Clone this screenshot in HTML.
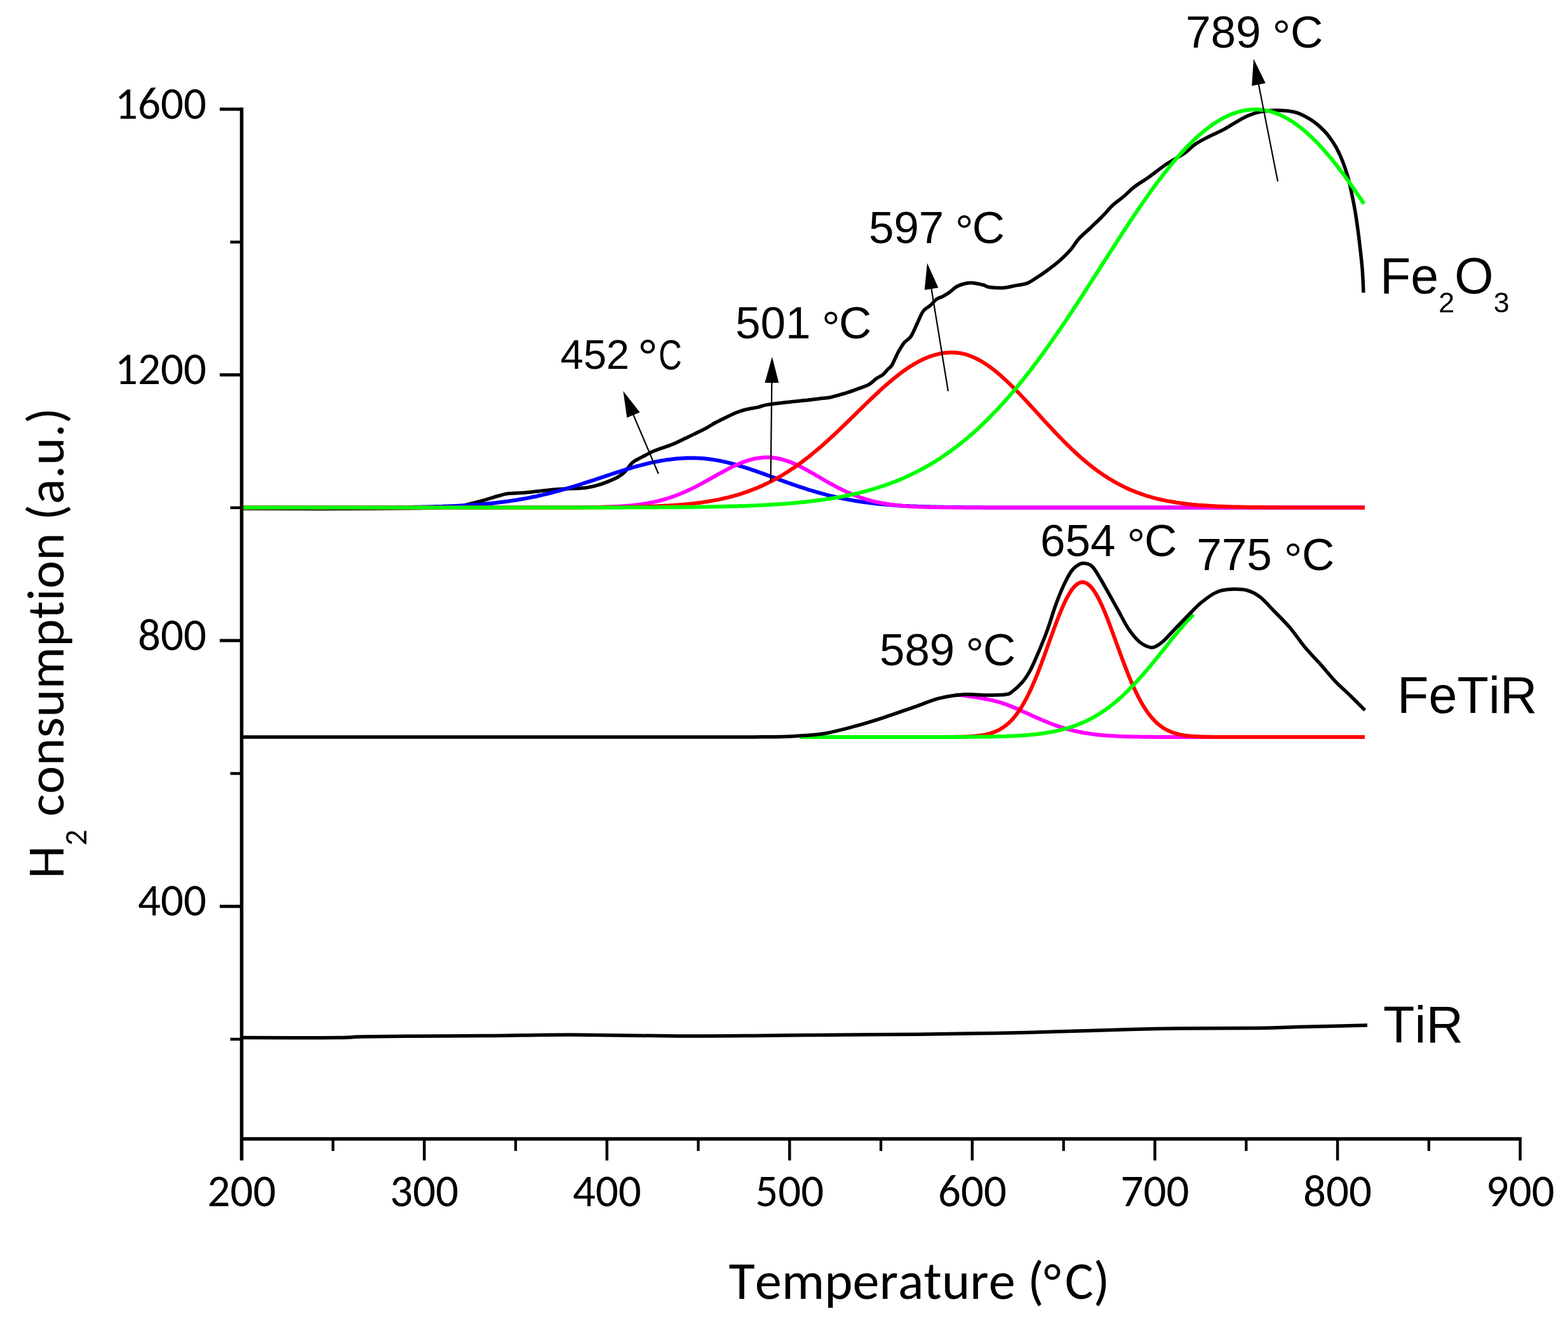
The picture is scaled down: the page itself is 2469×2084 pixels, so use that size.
<!DOCTYPE html>
<html><head><meta charset="utf-8"><title>H2-TPR profiles</title>
<style>html,body{margin:0;padding:0;background:#fff;width:2469px;height:2084px;overflow:hidden}svg{display:block}text{font-kerning:none}</style>
</head><body>
<svg xmlns="http://www.w3.org/2000/svg" width="2469" height="2084" viewBox="0 0 2469 2084">
<rect width="2469" height="2084" fill="#fff"/>
<path d="M381.0,801.0 C400.8,801.1 463.5,801.5 500.0,801.5 C536.5,801.5 573.3,801.2 600.0,801.0 C626.7,800.8 643.3,800.8 660.0,800.5 C676.7,800.2 689.2,800.1 700.0,799.5 C710.8,798.9 717.5,798.2 725.0,797.0 C732.5,795.8 738.5,794.1 745.0,792.5 C751.5,790.9 757.3,789.3 764.0,787.4 C770.7,785.5 779.0,782.6 785.0,781.0 C791.0,779.4 793.0,778.3 800.0,777.5 C807.0,776.7 817.2,776.8 827.0,776.0 C836.8,775.2 850.2,773.5 859.0,772.6 C867.8,771.7 869.5,771.2 880.0,770.5 C890.5,769.8 911.1,769.6 922.0,768.4 C932.9,767.1 938.9,764.9 945.3,763.0 C951.7,761.1 955.9,759.3 960.6,757.3 C965.3,755.3 969.6,753.5 973.4,751.2 C977.2,748.9 979.8,747.4 983.6,743.6 C987.4,739.8 991.6,732.3 996.3,728.3 C1001.0,724.3 1006.5,722.4 1011.6,719.6 C1016.7,716.8 1022.6,713.4 1027.0,711.4 C1031.4,709.4 1032.5,709.4 1038.0,707.4 C1043.5,705.4 1053.0,702.4 1060.0,699.5 C1067.0,696.6 1074.4,692.6 1080.0,690.0 C1085.6,687.4 1088.2,686.2 1093.5,683.6 C1098.8,681.0 1106.0,677.6 1111.6,674.6 C1117.2,671.6 1121.7,668.4 1127.0,665.5 C1132.3,662.6 1137.6,660.2 1143.2,657.5 C1148.8,654.8 1155.2,651.6 1160.5,649.5 C1165.8,647.4 1169.1,646.4 1174.7,645.0 C1180.3,643.6 1188.7,642.6 1194.0,641.4 C1199.3,640.2 1199.0,639.2 1206.3,637.9 C1213.6,636.6 1227.4,634.9 1237.9,633.7 C1248.4,632.5 1260.8,631.5 1269.5,630.5 C1278.2,629.5 1284.0,628.6 1290.0,627.9 C1296.0,627.2 1300.5,627.3 1305.8,626.3 C1311.1,625.3 1316.3,623.6 1321.6,622.1 C1326.9,620.6 1332.1,619.1 1337.4,617.4 C1342.7,615.6 1348.0,613.6 1353.2,611.6 C1358.5,609.6 1364.4,607.9 1368.9,605.3 C1373.4,602.7 1376.5,598.7 1380.0,596.2 C1383.5,593.7 1387.0,592.7 1390.0,590.3 C1393.0,587.9 1395.6,584.1 1398.0,581.6 C1400.4,579.1 1401.8,579.4 1404.5,575.0 C1407.2,570.6 1411.0,560.8 1414.2,555.0 C1417.4,549.2 1420.2,544.2 1423.6,540.0 C1426.9,535.8 1430.9,535.0 1434.3,530.0 C1437.7,525.0 1440.8,516.7 1444.0,510.0 C1447.2,503.3 1450.3,494.8 1453.8,490.0 C1457.3,485.2 1461.5,484.2 1465.0,481.1 C1468.5,478.0 1471.7,473.5 1475.0,471.1 C1478.3,468.7 1481.7,468.4 1485.0,466.7 C1488.3,464.9 1491.2,463.2 1495.0,460.6 C1498.8,458.0 1502.3,453.3 1507.8,450.8 C1513.3,448.3 1521.2,445.8 1527.9,445.5 C1534.6,445.2 1543.1,447.7 1548.0,448.8 C1552.9,449.9 1552.1,451.4 1557.2,452.2 C1562.3,453.0 1571.6,453.9 1578.8,453.5 C1586.0,453.1 1593.8,450.8 1600.3,449.6 C1606.8,448.4 1611.8,448.4 1617.5,446.1 C1623.2,443.8 1629.0,439.5 1634.7,435.8 C1640.5,432.1 1646.2,428.0 1652.0,423.7 C1657.8,419.4 1663.5,415.2 1669.2,410.0 C1674.9,404.8 1681.5,398.3 1686.4,392.7 C1691.3,387.1 1693.2,382.2 1698.5,376.4 C1703.8,370.6 1712.1,363.6 1718.3,357.7 C1724.5,351.8 1729.7,347.0 1735.4,341.2 C1741.1,335.4 1746.7,328.4 1752.4,323.1 C1758.1,317.8 1763.7,314.3 1769.4,309.5 C1775.1,304.7 1779.9,299.2 1786.4,294.2 C1792.9,289.2 1799.9,285.4 1808.3,279.5 C1816.7,273.6 1827.1,264.9 1836.7,258.5 C1846.3,252.1 1858.0,246.2 1865.7,240.9 C1873.4,235.6 1876.1,231.1 1882.7,226.7 C1889.3,222.2 1897.9,218.1 1905.4,214.2 C1913.0,210.3 1920.5,207.5 1928.0,203.4 C1935.5,199.3 1944.3,193.4 1950.7,189.8 C1957.1,186.2 1960.8,183.9 1966.6,181.6 C1972.4,179.3 1979.3,177.1 1985.7,175.8 C1992.1,174.5 1998.4,174.1 2004.8,173.9 C2011.2,173.7 2017.6,173.8 2024.0,174.4 C2030.4,175.1 2036.7,175.7 2043.1,177.8 C2049.5,180.0 2056.9,184.2 2062.2,187.3 C2067.5,190.4 2069.9,192.1 2074.7,196.4 C2079.5,200.7 2086.2,206.9 2091.1,212.9 C2096.0,218.9 2100.4,225.8 2104.2,232.6 C2108.0,239.4 2111.1,246.3 2114.1,254.0 C2117.1,261.7 2120.0,270.4 2122.3,278.6 C2124.6,286.8 2126.3,295.1 2128.1,303.3 C2129.9,311.5 2131.3,318.4 2133.0,328.0 C2134.7,337.6 2136.5,349.9 2138.0,360.8 C2139.5,371.8 2140.8,382.7 2142.0,393.7 C2143.2,404.7 2144.5,415.4 2145.3,426.6 C2146.1,437.8 2146.7,455.3 2147.0,461.0" fill="none" stroke="#000" stroke-width="5.5" stroke-linejoin="round" stroke-linecap="butt"/>
<path d="M381.0,799.5 L385.0,799.5 L389.0,799.5 L393.0,799.5 L397.0,799.5 L401.0,799.5 L405.0,799.5 L409.0,799.5 L413.0,799.5 L417.0,799.5 L421.0,799.5 L425.0,799.5 L429.0,799.5 L433.0,799.5 L437.0,799.5 L441.0,799.5 L445.0,799.5 L449.0,799.5 L453.0,799.5 L457.0,799.5 L461.0,799.5 L465.0,799.5 L469.0,799.5 L473.0,799.5 L477.0,799.5 L481.0,799.5 L485.0,799.5 L489.0,799.5 L493.0,799.5 L497.0,799.5 L501.0,799.5 L505.0,799.5 L509.0,799.5 L513.0,799.5 L517.0,799.5 L521.0,799.5 L525.0,799.5 L529.0,799.5 L533.0,799.5 L537.0,799.5 L541.0,799.5 L545.0,799.4 L549.0,799.4 L553.0,799.4 L557.0,799.4 L561.0,799.4 L565.0,799.4 L569.0,799.4 L573.0,799.4 L577.0,799.4 L581.0,799.4 L585.0,799.4 L589.0,799.3 L593.0,799.3 L597.0,799.3 L601.0,799.3 L605.0,799.3 L609.0,799.2 L613.0,799.2 L617.0,799.2 L621.0,799.2 L625.0,799.1 L629.0,799.1 L633.0,799.0 L637.0,799.0 L641.0,799.0 L645.0,798.9 L649.0,798.9 L653.0,798.8 L657.0,798.7 L661.0,798.7 L665.0,798.6 L669.0,798.5 L673.0,798.4 L677.0,798.3 L681.0,798.2 L685.0,798.1 L689.0,798.0 L693.0,797.9 L697.0,797.8 L701.0,797.6 L705.0,797.5 L709.0,797.3 L713.0,797.2 L717.0,797.0 L721.0,796.8 L725.0,796.6 L729.0,796.4 L733.0,796.1 L737.0,795.9 L741.0,795.6 L745.0,795.3 L749.0,795.1 L753.0,794.7 L757.0,794.4 L761.0,794.1 L765.0,793.7 L769.0,793.3 L773.0,792.9 L777.0,792.5 L781.0,792.1 L785.0,791.6 L789.0,791.1 L793.0,790.6 L797.0,790.1 L801.0,789.5 L805.0,788.9 L809.0,788.3 L813.0,787.7 L817.0,787.0 L821.0,786.3 L825.0,785.6 L829.0,784.9 L833.0,784.1 L837.0,783.3 L841.0,782.5 L845.0,781.7 L849.0,780.8 L853.0,779.9 L857.0,778.9 L861.0,778.0 L865.0,777.0 L869.0,776.0 L873.0,774.9 L877.0,773.9 L881.0,772.8 L885.0,771.7 L889.0,770.5 L893.0,769.4 L897.0,768.2 L901.0,767.0 L905.0,765.8 L909.0,764.5 L913.0,763.3 L917.0,762.0 L921.0,760.7 L925.0,759.4 L929.0,758.1 L933.0,756.8 L937.0,755.5 L941.0,754.1 L945.0,752.8 L949.0,751.5 L953.0,750.1 L957.0,748.8 L961.0,747.5 L965.0,746.2 L969.0,744.9 L973.0,743.6 L977.0,742.3 L981.0,741.0 L985.0,739.8 L989.0,738.6 L993.0,737.4 L997.0,736.2 L1001.0,735.0 L1005.0,733.9 L1009.0,732.9 L1013.0,731.8 L1017.0,730.8 L1021.0,729.9 L1025.0,728.9 L1029.0,728.1 L1033.0,727.2 L1037.0,726.5 L1041.0,725.7 L1045.0,725.1 L1049.0,724.4 L1053.0,723.9 L1057.0,723.4 L1061.0,722.9 L1065.0,722.5 L1069.0,722.2 L1073.0,721.9 L1077.0,721.7 L1081.0,721.5 L1085.0,721.4 L1089.0,721.4 L1093.0,721.4 L1097.0,721.6 L1101.0,721.7 L1105.0,722.0 L1109.0,722.3 L1113.0,722.7 L1117.0,723.2 L1121.0,723.8 L1125.0,724.4 L1129.0,725.1 L1133.0,725.8 L1137.0,726.6 L1141.0,727.5 L1145.0,728.4 L1149.0,729.4 L1153.0,730.4 L1157.0,731.5 L1161.0,732.7 L1165.0,733.8 L1169.0,735.1 L1173.0,736.3 L1177.0,737.6 L1181.0,738.9 L1185.0,740.3 L1189.0,741.7 L1193.0,743.1 L1197.0,744.5 L1201.0,745.9 L1205.0,747.4 L1209.0,748.8 L1213.0,750.3 L1217.0,751.8 L1221.0,753.2 L1225.0,754.7 L1229.0,756.2 L1233.0,757.6 L1237.0,759.1 L1241.0,760.5 L1245.0,761.9 L1249.0,763.3 L1253.0,764.7 L1257.0,766.1 L1261.0,767.4 L1265.0,768.7 L1269.0,770.0 L1273.0,771.3 L1277.0,772.5 L1281.0,773.7 L1285.0,774.9 L1289.0,776.0 L1293.0,777.1 L1297.0,778.2 L1301.0,779.3 L1305.0,780.3 L1309.0,781.3 L1313.0,782.2 L1317.0,783.1 L1321.0,784.0 L1325.0,784.8 L1329.0,785.7 L1333.0,786.4 L1337.0,787.2 L1341.0,787.9 L1345.0,788.6 L1349.0,789.3 L1353.0,789.9 L1357.0,790.5 L1361.0,791.0 L1365.0,791.6 L1369.0,792.1 L1373.0,792.6 L1377.0,793.0 L1381.0,793.5 L1385.0,793.9 L1389.0,794.3 L1393.0,794.6 L1397.0,795.0 L1401.0,795.3 L1405.0,795.6 L1409.0,795.9 L1413.0,796.2 L1417.0,796.4 L1421.0,796.7 L1425.0,796.9 L1429.0,797.1 L1433.0,797.3 L1437.0,797.4 L1441.0,797.6 L1445.0,797.8 L1449.0,797.9 L1453.0,798.0 L1457.0,798.2 L1461.0,798.3 L1465.0,798.4 L1469.0,798.5 L1473.0,798.6 L1477.0,798.7 L1481.0,798.7 L1485.0,798.8 L1489.0,798.9 L1493.0,798.9 L1497.0,799.0 L1501.0,799.0 L1505.0,799.1 L1509.0,799.1 L1513.0,799.1 L1517.0,799.2 L1521.0,799.2 L1525.0,799.2 L1529.0,799.3 L1533.0,799.3 L1537.0,799.3 L1541.0,799.3 L1545.0,799.3 L1549.0,799.4 L1553.0,799.4 L1557.0,799.4 L1561.0,799.4 L1565.0,799.4 L1569.0,799.4 L1573.0,799.4 L1577.0,799.4 L1581.0,799.4 L1585.0,799.5 L1589.0,799.5 L1593.0,799.5 L1597.0,799.5 L1601.0,799.5 L1605.0,799.5 L1609.0,799.5 L1613.0,799.5 L1617.0,799.5 L1621.0,799.5 L1625.0,799.5 L1629.0,799.5 L1633.0,799.5 L1637.0,799.5 L1641.0,799.5 L1645.0,799.5 L1649.0,799.5 L1653.0,799.5 L1657.0,799.5 L1661.0,799.5 L1665.0,799.5 L1669.0,799.5 L1673.0,799.5 L1677.0,799.5 L1681.0,799.5 L1685.0,799.5 L1689.0,799.5 L1693.0,799.5 L1697.0,799.5 L1701.0,799.5 L1705.0,799.5 L1709.0,799.5 L1713.0,799.5 L1717.0,799.5 L1721.0,799.5 L1725.0,799.5 L1729.0,799.5 L1733.0,799.5 L1737.0,799.5 L1741.0,799.5 L1745.0,799.5 L1749.0,799.5 L1753.0,799.5 L1757.0,799.5 L1761.0,799.5 L1765.0,799.5 L1769.0,799.5 L1773.0,799.5 L1777.0,799.5 L1781.0,799.5 L1785.0,799.5 L1789.0,799.5 L1793.0,799.5 L1797.0,799.5 L1801.0,799.5 L1805.0,799.5 L1809.0,799.5 L1813.0,799.5 L1817.0,799.5 L1821.0,799.5 L1825.0,799.5 L1829.0,799.5 L1833.0,799.5 L1837.0,799.5 L1841.0,799.5 L1845.0,799.5 L1849.0,799.5 L1853.0,799.5 L1857.0,799.5 L1861.0,799.5 L1865.0,799.5 L1869.0,799.5 L1873.0,799.5 L1877.0,799.5 L1881.0,799.5 L1885.0,799.5 L1889.0,799.5 L1893.0,799.5 L1897.0,799.5 L1901.0,799.5 L1905.0,799.5 L1909.0,799.5 L1913.0,799.5 L1917.0,799.5 L1921.0,799.5 L1925.0,799.5 L1929.0,799.5 L1933.0,799.5 L1937.0,799.5 L1941.0,799.5 L1945.0,799.5 L1949.0,799.5 L1953.0,799.5 L1957.0,799.5 L1961.0,799.5 L1965.0,799.5 L1969.0,799.5 L1973.0,799.5 L1977.0,799.5 L1981.0,799.5 L1985.0,799.5 L1989.0,799.5 L1993.0,799.5 L1997.0,799.5 L2001.0,799.5 L2005.0,799.5 L2009.0,799.5 L2013.0,799.5 L2017.0,799.5 L2021.0,799.5 L2025.0,799.5 L2029.0,799.5 L2033.0,799.5 L2037.0,799.5 L2041.0,799.5 L2045.0,799.5 L2049.0,799.5 L2053.0,799.5 L2057.0,799.5 L2061.0,799.5 L2065.0,799.5 L2069.0,799.5 L2073.0,799.5 L2077.0,799.5 L2081.0,799.5 L2085.0,799.5 L2089.0,799.5 L2093.0,799.5 L2097.0,799.5 L2101.0,799.5 L2105.0,799.5 L2109.0,799.5 L2113.0,799.5 L2117.0,799.5 L2121.0,799.5 L2125.0,799.5 L2129.0,799.5 L2133.0,799.5 L2137.0,799.5 L2141.0,799.5 L2145.0,799.5 L2149.0,799.5" fill="none" stroke="#0000ff" stroke-width="6" stroke-linejoin="round"/>
<path d="M381.0,799.5 L385.0,799.5 L389.0,799.5 L393.0,799.5 L397.0,799.5 L401.0,799.5 L405.0,799.5 L409.0,799.5 L413.0,799.5 L417.0,799.5 L421.0,799.5 L425.0,799.5 L429.0,799.5 L433.0,799.5 L437.0,799.5 L441.0,799.5 L445.0,799.5 L449.0,799.5 L453.0,799.5 L457.0,799.5 L461.0,799.5 L465.0,799.5 L469.0,799.5 L473.0,799.5 L477.0,799.5 L481.0,799.5 L485.0,799.5 L489.0,799.5 L493.0,799.5 L497.0,799.5 L501.0,799.5 L505.0,799.5 L509.0,799.5 L513.0,799.5 L517.0,799.5 L521.0,799.5 L525.0,799.5 L529.0,799.5 L533.0,799.5 L537.0,799.5 L541.0,799.5 L545.0,799.5 L549.0,799.5 L553.0,799.5 L557.0,799.5 L561.0,799.5 L565.0,799.5 L569.0,799.5 L573.0,799.5 L577.0,799.5 L581.0,799.5 L585.0,799.5 L589.0,799.5 L593.0,799.5 L597.0,799.5 L601.0,799.5 L605.0,799.5 L609.0,799.5 L613.0,799.5 L617.0,799.5 L621.0,799.5 L625.0,799.5 L629.0,799.5 L633.0,799.5 L637.0,799.5 L641.0,799.5 L645.0,799.5 L649.0,799.5 L653.0,799.5 L657.0,799.5 L661.0,799.5 L665.0,799.5 L669.0,799.5 L673.0,799.5 L677.0,799.5 L681.0,799.5 L685.0,799.5 L689.0,799.5 L693.0,799.5 L697.0,799.5 L701.0,799.5 L705.0,799.5 L709.0,799.5 L713.0,799.5 L717.0,799.5 L721.0,799.5 L725.0,799.5 L729.0,799.5 L733.0,799.5 L737.0,799.5 L741.0,799.5 L745.0,799.5 L749.0,799.5 L753.0,799.5 L757.0,799.5 L761.0,799.5 L765.0,799.5 L769.0,799.5 L773.0,799.5 L777.0,799.5 L781.0,799.5 L785.0,799.5 L789.0,799.5 L793.0,799.5 L797.0,799.5 L801.0,799.5 L805.0,799.5 L809.0,799.5 L813.0,799.5 L817.0,799.5 L821.0,799.5 L825.0,799.5 L829.0,799.5 L833.0,799.5 L837.0,799.5 L841.0,799.5 L845.0,799.5 L849.0,799.5 L853.0,799.5 L857.0,799.5 L861.0,799.5 L865.0,799.5 L869.0,799.5 L873.0,799.5 L877.0,799.5 L881.0,799.5 L885.0,799.4 L889.0,799.4 L893.0,799.4 L897.0,799.4 L901.0,799.4 L905.0,799.4 L909.0,799.3 L913.0,799.3 L917.0,799.3 L921.0,799.2 L925.0,799.2 L929.0,799.1 L933.0,799.1 L937.0,799.0 L941.0,798.9 L945.0,798.8 L949.0,798.7 L953.0,798.6 L957.0,798.5 L961.0,798.3 L965.0,798.2 L969.0,798.0 L973.0,797.8 L977.0,797.5 L981.0,797.3 L985.0,797.0 L989.0,796.6 L993.0,796.3 L997.0,795.9 L1001.0,795.4 L1005.0,794.9 L1009.0,794.4 L1013.0,793.8 L1017.0,793.2 L1021.0,792.5 L1025.0,791.7 L1029.0,790.9 L1033.0,790.0 L1037.0,789.1 L1041.0,788.0 L1045.0,786.9 L1049.0,785.8 L1053.0,784.5 L1057.0,783.2 L1061.0,781.8 L1065.0,780.3 L1069.0,778.8 L1073.0,777.1 L1077.0,775.4 L1081.0,773.6 L1085.0,771.8 L1089.0,769.9 L1093.0,767.9 L1097.0,765.8 L1101.0,763.7 L1105.0,761.6 L1109.0,759.4 L1113.0,757.2 L1117.0,755.0 L1121.0,752.7 L1125.0,750.5 L1129.0,748.2 L1133.0,746.0 L1137.0,743.8 L1141.0,741.6 L1145.0,739.5 L1149.0,737.4 L1153.0,735.4 L1157.0,733.5 L1161.0,731.7 L1165.0,730.0 L1169.0,728.4 L1173.0,726.9 L1177.0,725.6 L1181.0,724.4 L1185.0,723.3 L1189.0,722.4 L1193.0,721.7 L1197.0,721.2 L1201.0,720.8 L1205.0,720.5 L1209.0,720.5 L1213.0,720.6 L1217.0,721.0 L1221.0,721.5 L1225.0,722.2 L1229.0,723.0 L1233.0,724.1 L1237.0,725.3 L1241.0,726.6 L1245.0,728.1 L1249.0,729.8 L1253.0,731.5 L1257.0,733.4 L1261.0,735.4 L1265.0,737.5 L1269.0,739.6 L1273.0,741.8 L1277.0,744.1 L1281.0,746.3 L1285.0,748.7 L1289.0,751.0 L1293.0,753.3 L1297.0,755.7 L1301.0,758.0 L1305.0,760.3 L1309.0,762.5 L1313.0,764.7 L1317.0,766.8 L1321.0,768.9 L1325.0,771.0 L1329.0,772.9 L1333.0,774.8 L1337.0,776.6 L1341.0,778.3 L1345.0,779.9 L1349.0,781.5 L1353.0,783.0 L1357.0,784.3 L1361.0,785.6 L1365.0,786.9 L1369.0,788.0 L1373.0,789.1 L1377.0,790.1 L1381.0,791.0 L1385.0,791.8 L1389.0,792.6 L1393.0,793.3 L1397.0,794.0 L1401.0,794.5 L1405.0,795.1 L1409.0,795.6 L1413.0,796.0 L1417.0,796.4 L1421.0,796.8 L1425.0,797.1 L1429.0,797.4 L1433.0,797.7 L1437.0,797.9 L1441.0,798.1 L1445.0,798.3 L1449.0,798.4 L1453.0,798.6 L1457.0,798.7 L1461.0,798.8 L1465.0,798.9 L1469.0,799.0 L1473.0,799.1 L1477.0,799.1 L1481.0,799.2 L1485.0,799.2 L1489.0,799.3 L1493.0,799.3 L1497.0,799.3 L1501.0,799.4 L1505.0,799.4 L1509.0,799.4 L1513.0,799.4 L1517.0,799.4 L1521.0,799.4 L1525.0,799.5 L1529.0,799.5 L1533.0,799.5 L1537.0,799.5 L1541.0,799.5 L1545.0,799.5 L1549.0,799.5 L1553.0,799.5 L1557.0,799.5 L1561.0,799.5 L1565.0,799.5 L1569.0,799.5 L1573.0,799.5 L1577.0,799.5 L1581.0,799.5 L1585.0,799.5 L1589.0,799.5 L1593.0,799.5 L1597.0,799.5 L1601.0,799.5 L1605.0,799.5 L1609.0,799.5 L1613.0,799.5 L1617.0,799.5 L1621.0,799.5 L1625.0,799.5 L1629.0,799.5 L1633.0,799.5 L1637.0,799.5 L1641.0,799.5 L1645.0,799.5 L1649.0,799.5 L1653.0,799.5 L1657.0,799.5 L1661.0,799.5 L1665.0,799.5 L1669.0,799.5 L1673.0,799.5 L1677.0,799.5 L1681.0,799.5 L1685.0,799.5 L1689.0,799.5 L1693.0,799.5 L1697.0,799.5 L1701.0,799.5 L1705.0,799.5 L1709.0,799.5 L1713.0,799.5 L1717.0,799.5 L1721.0,799.5 L1725.0,799.5 L1729.0,799.5 L1733.0,799.5 L1737.0,799.5 L1741.0,799.5 L1745.0,799.5 L1749.0,799.5 L1753.0,799.5 L1757.0,799.5 L1761.0,799.5 L1765.0,799.5 L1769.0,799.5 L1773.0,799.5 L1777.0,799.5 L1781.0,799.5 L1785.0,799.5 L1789.0,799.5 L1793.0,799.5 L1797.0,799.5 L1801.0,799.5 L1805.0,799.5 L1809.0,799.5 L1813.0,799.5 L1817.0,799.5 L1821.0,799.5 L1825.0,799.5 L1829.0,799.5 L1833.0,799.5 L1837.0,799.5 L1841.0,799.5 L1845.0,799.5 L1849.0,799.5 L1853.0,799.5 L1857.0,799.5 L1861.0,799.5 L1865.0,799.5 L1869.0,799.5 L1873.0,799.5 L1877.0,799.5 L1881.0,799.5 L1885.0,799.5 L1889.0,799.5 L1893.0,799.5 L1897.0,799.5 L1901.0,799.5 L1905.0,799.5 L1909.0,799.5 L1913.0,799.5 L1917.0,799.5 L1921.0,799.5 L1925.0,799.5 L1929.0,799.5 L1933.0,799.5 L1937.0,799.5 L1941.0,799.5 L1945.0,799.5 L1949.0,799.5 L1953.0,799.5 L1957.0,799.5 L1961.0,799.5 L1965.0,799.5 L1969.0,799.5 L1973.0,799.5 L1977.0,799.5 L1981.0,799.5 L1985.0,799.5 L1989.0,799.5 L1993.0,799.5 L1997.0,799.5 L2001.0,799.5 L2005.0,799.5 L2009.0,799.5 L2013.0,799.5 L2017.0,799.5 L2021.0,799.5 L2025.0,799.5 L2029.0,799.5 L2033.0,799.5 L2037.0,799.5 L2041.0,799.5 L2045.0,799.5 L2049.0,799.5 L2053.0,799.5 L2057.0,799.5 L2061.0,799.5 L2065.0,799.5 L2069.0,799.5 L2073.0,799.5 L2077.0,799.5 L2081.0,799.5 L2085.0,799.5 L2089.0,799.5 L2093.0,799.5 L2097.0,799.5 L2101.0,799.5 L2105.0,799.5 L2109.0,799.5 L2113.0,799.5 L2117.0,799.5 L2121.0,799.5 L2125.0,799.5 L2129.0,799.5 L2133.0,799.5 L2137.0,799.5 L2141.0,799.5 L2145.0,799.5 L2149.0,799.5" fill="none" stroke="#ff00ff" stroke-width="6" stroke-linejoin="round"/>
<path d="M381.0,799.5 L385.0,799.5 L389.0,799.5 L393.0,799.5 L397.0,799.5 L401.0,799.5 L405.0,799.5 L409.0,799.5 L413.0,799.5 L417.0,799.5 L421.0,799.5 L425.0,799.5 L429.0,799.5 L433.0,799.5 L437.0,799.5 L441.0,799.5 L445.0,799.5 L449.0,799.5 L453.0,799.5 L457.0,799.5 L461.0,799.5 L465.0,799.5 L469.0,799.5 L473.0,799.5 L477.0,799.5 L481.0,799.5 L485.0,799.5 L489.0,799.5 L493.0,799.5 L497.0,799.5 L501.0,799.5 L505.0,799.5 L509.0,799.5 L513.0,799.5 L517.0,799.5 L521.0,799.5 L525.0,799.5 L529.0,799.5 L533.0,799.5 L537.0,799.5 L541.0,799.5 L545.0,799.5 L549.0,799.5 L553.0,799.5 L557.0,799.5 L561.0,799.5 L565.0,799.5 L569.0,799.5 L573.0,799.5 L577.0,799.5 L581.0,799.5 L585.0,799.5 L589.0,799.5 L593.0,799.5 L597.0,799.5 L601.0,799.5 L605.0,799.5 L609.0,799.5 L613.0,799.5 L617.0,799.5 L621.0,799.5 L625.0,799.5 L629.0,799.5 L633.0,799.5 L637.0,799.5 L641.0,799.5 L645.0,799.5 L649.0,799.5 L653.0,799.5 L657.0,799.5 L661.0,799.5 L665.0,799.5 L669.0,799.5 L673.0,799.5 L677.0,799.5 L681.0,799.5 L685.0,799.5 L689.0,799.5 L693.0,799.5 L697.0,799.5 L701.0,799.5 L705.0,799.5 L709.0,799.5 L713.0,799.5 L717.0,799.5 L721.0,799.5 L725.0,799.5 L729.0,799.5 L733.0,799.5 L737.0,799.5 L741.0,799.5 L745.0,799.5 L749.0,799.5 L753.0,799.5 L757.0,799.5 L761.0,799.5 L765.0,799.5 L769.0,799.5 L773.0,799.5 L777.0,799.5 L781.0,799.5 L785.0,799.5 L789.0,799.5 L793.0,799.5 L797.0,799.5 L801.0,799.5 L805.0,799.5 L809.0,799.5 L813.0,799.5 L817.0,799.5 L821.0,799.5 L825.0,799.5 L829.0,799.5 L833.0,799.5 L837.0,799.5 L841.0,799.5 L845.0,799.5 L849.0,799.5 L853.0,799.5 L857.0,799.5 L861.0,799.5 L865.0,799.5 L869.0,799.5 L873.0,799.5 L877.0,799.4 L881.0,799.4 L885.0,799.4 L889.0,799.4 L893.0,799.4 L897.0,799.4 L901.0,799.4 L905.0,799.4 L909.0,799.4 L913.0,799.4 L917.0,799.4 L921.0,799.3 L925.0,799.3 L929.0,799.3 L933.0,799.3 L937.0,799.3 L941.0,799.2 L945.0,799.2 L949.0,799.2 L953.0,799.1 L957.0,799.1 L961.0,799.1 L965.0,799.0 L969.0,799.0 L973.0,798.9 L977.0,798.9 L981.0,798.8 L985.0,798.8 L989.0,798.7 L993.0,798.6 L997.0,798.5 L1001.0,798.4 L1005.0,798.3 L1009.0,798.2 L1013.0,798.1 L1017.0,798.0 L1021.0,797.9 L1025.0,797.7 L1029.0,797.6 L1033.0,797.4 L1037.0,797.2 L1041.0,797.0 L1045.0,796.8 L1049.0,796.6 L1053.0,796.4 L1057.0,796.1 L1061.0,795.9 L1065.0,795.6 L1069.0,795.3 L1073.0,794.9 L1077.0,794.6 L1081.0,794.2 L1085.0,793.8 L1089.0,793.4 L1093.0,792.9 L1097.0,792.4 L1101.0,791.9 L1105.0,791.4 L1109.0,790.8 L1113.0,790.2 L1117.0,789.5 L1121.0,788.9 L1125.0,788.1 L1129.0,787.4 L1133.0,786.6 L1137.0,785.7 L1141.0,784.8 L1145.0,783.9 L1149.0,782.9 L1153.0,781.8 L1157.0,780.7 L1161.0,779.6 L1165.0,778.3 L1169.0,777.1 L1173.0,775.7 L1177.0,774.4 L1181.0,772.9 L1185.0,771.4 L1189.0,769.8 L1193.0,768.2 L1197.0,766.4 L1201.0,764.7 L1205.0,762.8 L1209.0,760.9 L1213.0,758.9 L1217.0,756.8 L1221.0,754.6 L1225.0,752.4 L1229.0,750.1 L1233.0,747.7 L1237.0,745.3 L1241.0,742.7 L1245.0,740.1 L1249.0,737.5 L1253.0,734.7 L1257.0,731.9 L1261.0,729.0 L1265.0,726.0 L1269.0,722.9 L1273.0,719.8 L1277.0,716.6 L1281.0,713.3 L1285.0,710.0 L1289.0,706.6 L1293.0,703.2 L1297.0,699.7 L1301.0,696.1 L1305.0,692.5 L1309.0,688.8 L1313.0,685.1 L1317.0,681.3 L1321.0,677.6 L1325.0,673.7 L1329.0,669.9 L1333.0,666.0 L1337.0,662.1 L1341.0,658.2 L1345.0,654.3 L1349.0,650.3 L1353.0,646.4 L1357.0,642.5 L1361.0,638.6 L1365.0,634.7 L1369.0,630.9 L1373.0,627.0 L1377.0,623.2 L1381.0,619.5 L1385.0,615.8 L1389.0,612.1 L1393.0,608.6 L1397.0,605.0 L1401.0,601.6 L1405.0,598.2 L1409.0,595.0 L1413.0,591.8 L1417.0,588.7 L1421.0,585.7 L1425.0,582.8 L1429.0,580.1 L1433.0,577.5 L1437.0,574.9 L1441.0,572.6 L1445.0,570.3 L1449.0,568.2 L1453.0,566.3 L1457.0,564.5 L1461.0,562.8 L1465.0,561.3 L1469.0,560.0 L1473.0,558.8 L1477.0,557.8 L1481.0,556.9 L1485.0,556.2 L1489.0,555.7 L1493.0,555.4 L1497.0,555.2 L1501.0,555.2 L1505.0,555.4 L1509.0,555.9 L1513.0,556.5 L1517.0,557.4 L1521.0,558.4 L1525.0,559.7 L1529.0,561.2 L1533.0,562.8 L1537.0,564.7 L1541.0,566.7 L1545.0,569.0 L1549.0,571.4 L1553.0,574.0 L1557.0,576.7 L1561.0,579.7 L1565.0,582.7 L1569.0,585.9 L1573.0,589.3 L1577.0,592.8 L1581.0,596.4 L1585.0,600.1 L1589.0,603.9 L1593.0,607.8 L1597.0,611.8 L1601.0,615.9 L1605.0,620.0 L1609.0,624.2 L1613.0,628.5 L1617.0,632.8 L1621.0,637.1 L1625.0,641.5 L1629.0,645.8 L1633.0,650.2 L1637.0,654.6 L1641.0,659.0 L1645.0,663.4 L1649.0,667.7 L1653.0,672.0 L1657.0,676.3 L1661.0,680.6 L1665.0,684.8 L1669.0,688.9 L1673.0,693.0 L1677.0,697.1 L1681.0,701.0 L1685.0,704.9 L1689.0,708.8 L1693.0,712.5 L1697.0,716.2 L1701.0,719.7 L1705.0,723.2 L1709.0,726.6 L1713.0,730.0 L1717.0,733.2 L1721.0,736.3 L1725.0,739.3 L1729.0,742.3 L1733.0,745.1 L1737.0,747.9 L1741.0,750.5 L1745.0,753.1 L1749.0,755.5 L1753.0,757.9 L1757.0,760.2 L1761.0,762.3 L1765.0,764.4 L1769.0,766.4 L1773.0,768.4 L1777.0,770.2 L1781.0,771.9 L1785.0,773.6 L1789.0,775.2 L1793.0,776.7 L1797.0,778.1 L1801.0,779.5 L1805.0,780.8 L1809.0,782.0 L1813.0,783.2 L1817.0,784.3 L1821.0,785.3 L1825.0,786.3 L1829.0,787.2 L1833.0,788.1 L1837.0,788.9 L1841.0,789.6 L1845.0,790.3 L1849.0,791.0 L1853.0,791.7 L1857.0,792.2 L1861.0,792.8 L1865.0,793.3 L1869.0,793.8 L1873.0,794.2 L1877.0,794.7 L1881.0,795.0 L1885.0,795.4 L1889.0,795.7 L1893.0,796.0 L1897.0,796.3 L1901.0,796.6 L1905.0,796.8 L1909.0,797.1 L1913.0,797.3 L1917.0,797.5 L1921.0,797.7 L1925.0,797.8 L1929.0,798.0 L1933.0,798.1 L1937.0,798.2 L1941.0,798.4 L1945.0,798.5 L1949.0,798.6 L1953.0,798.6 L1957.0,798.7 L1961.0,798.8 L1965.0,798.9 L1969.0,798.9 L1973.0,799.0 L1977.0,799.0 L1981.0,799.1 L1985.0,799.1 L1989.0,799.2 L1993.0,799.2 L1997.0,799.2 L2001.0,799.3 L2005.0,799.3 L2009.0,799.3 L2013.0,799.3 L2017.0,799.3 L2021.0,799.4 L2025.0,799.4 L2029.0,799.4 L2033.0,799.4 L2037.0,799.4 L2041.0,799.4 L2045.0,799.4 L2049.0,799.4 L2053.0,799.4 L2057.0,799.5 L2061.0,799.5 L2065.0,799.5 L2069.0,799.5 L2073.0,799.5 L2077.0,799.5 L2081.0,799.5 L2085.0,799.5 L2089.0,799.5 L2093.0,799.5 L2097.0,799.5 L2101.0,799.5 L2105.0,799.5 L2109.0,799.5 L2113.0,799.5 L2117.0,799.5 L2121.0,799.5 L2125.0,799.5 L2129.0,799.5 L2133.0,799.5 L2137.0,799.5 L2141.0,799.5 L2145.0,799.5 L2149.0,799.5" fill="none" stroke="#ff0000" stroke-width="6" stroke-linejoin="round"/>
<path d="M381.0,799.5 L385.0,799.5 L389.0,799.5 L393.0,799.5 L397.0,799.5 L401.0,799.5 L405.0,799.5 L409.0,799.5 L413.0,799.5 L417.0,799.5 L421.0,799.5 L425.0,799.5 L429.0,799.5 L433.0,799.5 L437.0,799.5 L441.0,799.5 L445.0,799.5 L449.0,799.5 L453.0,799.5 L457.0,799.5 L461.0,799.5 L465.0,799.5 L469.0,799.5 L473.0,799.5 L477.0,799.5 L481.0,799.5 L485.0,799.5 L489.0,799.5 L493.0,799.5 L497.0,799.5 L501.0,799.5 L505.0,799.5 L509.0,799.5 L513.0,799.5 L517.0,799.5 L521.0,799.5 L525.0,799.5 L529.0,799.5 L533.0,799.5 L537.0,799.5 L541.0,799.5 L545.0,799.5 L549.0,799.5 L553.0,799.5 L557.0,799.5 L561.0,799.5 L565.0,799.5 L569.0,799.5 L573.0,799.5 L577.0,799.5 L581.0,799.5 L585.0,799.5 L589.0,799.5 L593.0,799.5 L597.0,799.5 L601.0,799.5 L605.0,799.5 L609.0,799.5 L613.0,799.5 L617.0,799.5 L621.0,799.5 L625.0,799.5 L629.0,799.5 L633.0,799.5 L637.0,799.5 L641.0,799.5 L645.0,799.5 L649.0,799.5 L653.0,799.5 L657.0,799.5 L661.0,799.5 L665.0,799.5 L669.0,799.5 L673.0,799.5 L677.0,799.5 L681.0,799.5 L685.0,799.5 L689.0,799.5 L693.0,799.5 L697.0,799.5 L701.0,799.5 L705.0,799.5 L709.0,799.5 L713.0,799.5 L717.0,799.5 L721.0,799.5 L725.0,799.5 L729.0,799.5 L733.0,799.5 L737.0,799.5 L741.0,799.5 L745.0,799.5 L749.0,799.5 L753.0,799.5 L757.0,799.5 L761.0,799.5 L765.0,799.5 L769.0,799.5 L773.0,799.5 L777.0,799.5 L781.0,799.5 L785.0,799.5 L789.0,799.5 L793.0,799.5 L797.0,799.5 L801.0,799.5 L805.0,799.5 L809.0,799.5 L813.0,799.5 L817.0,799.5 L821.0,799.5 L825.0,799.5 L829.0,799.5 L833.0,799.5 L837.0,799.5 L841.0,799.5 L845.0,799.5 L849.0,799.5 L853.0,799.5 L857.0,799.5 L861.0,799.5 L865.0,799.5 L869.0,799.5 L873.0,799.5 L877.0,799.5 L881.0,799.5 L885.0,799.5 L889.0,799.5 L893.0,799.5 L897.0,799.5 L901.0,799.5 L905.0,799.5 L909.0,799.5 L913.0,799.5 L917.0,799.5 L921.0,799.5 L925.0,799.4 L929.0,799.4 L933.0,799.4 L937.0,799.4 L941.0,799.4 L945.0,799.4 L949.0,799.4 L953.0,799.4 L957.0,799.4 L961.0,799.4 L965.0,799.4 L969.0,799.4 L973.0,799.4 L977.0,799.4 L981.0,799.4 L985.0,799.3 L989.0,799.3 L993.0,799.3 L997.0,799.3 L1001.0,799.3 L1005.0,799.3 L1009.0,799.3 L1013.0,799.3 L1017.0,799.2 L1021.0,799.2 L1025.0,799.2 L1029.0,799.2 L1033.0,799.2 L1037.0,799.1 L1041.0,799.1 L1045.0,799.1 L1049.0,799.1 L1053.0,799.0 L1057.0,799.0 L1061.0,799.0 L1065.0,799.0 L1069.0,798.9 L1073.0,798.9 L1077.0,798.8 L1081.0,798.8 L1085.0,798.8 L1089.0,798.7 L1093.0,798.7 L1097.0,798.6 L1101.0,798.6 L1105.0,798.5 L1109.0,798.4 L1113.0,798.4 L1117.0,798.3 L1121.0,798.2 L1125.0,798.2 L1129.0,798.1 L1133.0,798.0 L1137.0,797.9 L1141.0,797.8 L1145.0,797.7 L1149.0,797.6 L1153.0,797.5 L1157.0,797.4 L1161.0,797.3 L1165.0,797.1 L1169.0,797.0 L1173.0,796.9 L1177.0,796.7 L1181.0,796.6 L1185.0,796.4 L1189.0,796.2 L1193.0,796.1 L1197.0,795.9 L1201.0,795.7 L1205.0,795.5 L1209.0,795.3 L1213.0,795.0 L1217.0,794.8 L1221.0,794.5 L1225.0,794.3 L1229.0,794.0 L1233.0,793.7 L1237.0,793.4 L1241.0,793.1 L1245.0,792.8 L1249.0,792.4 L1253.0,792.1 L1257.0,791.7 L1261.0,791.3 L1265.0,790.9 L1269.0,790.5 L1273.0,790.1 L1277.0,789.6 L1281.0,789.1 L1285.0,788.6 L1289.0,788.1 L1293.0,787.6 L1297.0,787.0 L1301.0,786.4 L1305.0,785.8 L1309.0,785.2 L1313.0,784.5 L1317.0,783.8 L1321.0,783.1 L1325.0,782.4 L1329.0,781.6 L1333.0,780.8 L1337.0,780.0 L1341.0,779.1 L1345.0,778.2 L1349.0,777.3 L1353.0,776.3 L1357.0,775.3 L1361.0,774.3 L1365.0,773.2 L1369.0,772.1 L1373.0,770.9 L1377.0,769.8 L1381.0,768.5 L1385.0,767.2 L1389.0,765.9 L1393.0,764.6 L1397.0,763.2 L1401.0,761.7 L1405.0,760.2 L1409.0,758.7 L1413.0,757.1 L1417.0,755.4 L1421.0,753.7 L1425.0,752.0 L1429.0,750.2 L1433.0,748.3 L1437.0,746.4 L1441.0,744.4 L1445.0,742.4 L1449.0,740.3 L1453.0,738.2 L1457.0,736.0 L1461.0,733.7 L1465.0,731.4 L1469.0,729.0 L1473.0,726.5 L1477.0,724.0 L1481.0,721.4 L1485.0,718.7 L1489.0,716.0 L1493.0,713.2 L1497.0,710.4 L1501.0,707.4 L1505.0,704.4 L1509.0,701.3 L1513.0,698.2 L1517.0,695.0 L1521.0,691.7 L1525.0,688.3 L1529.0,684.9 L1533.0,681.4 L1537.0,677.8 L1541.0,674.1 L1545.0,670.4 L1549.0,666.5 L1553.0,662.7 L1557.0,658.7 L1561.0,654.6 L1565.0,650.5 L1569.0,646.3 L1573.0,642.1 L1577.0,637.7 L1581.0,633.3 L1585.0,628.8 L1589.0,624.2 L1593.0,619.6 L1597.0,614.9 L1601.0,610.1 L1605.0,605.2 L1609.0,600.3 L1613.0,595.3 L1617.0,590.2 L1621.0,585.1 L1625.0,579.9 L1629.0,574.6 L1633.0,569.3 L1637.0,563.9 L1641.0,558.4 L1645.0,552.9 L1649.0,547.3 L1653.0,541.7 L1657.0,536.0 L1661.0,530.3 L1665.0,524.5 L1669.0,518.6 L1673.0,512.8 L1677.0,506.8 L1681.0,500.9 L1685.0,494.9 L1689.0,488.8 L1693.0,482.7 L1697.0,476.6 L1701.0,470.5 L1705.0,464.3 L1709.0,458.1 L1713.0,451.9 L1717.0,445.7 L1721.0,439.5 L1725.0,433.2 L1729.0,427.0 L1733.0,420.7 L1737.0,414.4 L1741.0,408.2 L1745.0,401.9 L1749.0,395.7 L1753.0,389.5 L1757.0,383.3 L1761.0,377.1 L1765.0,370.9 L1769.0,364.8 L1773.0,358.6 L1777.0,352.6 L1781.0,346.5 L1785.0,340.5 L1789.0,334.6 L1793.0,328.7 L1797.0,322.9 L1801.0,317.1 L1805.0,311.4 L1809.0,305.7 L1813.0,300.1 L1817.0,294.6 L1821.0,289.2 L1825.0,283.8 L1829.0,278.6 L1833.0,273.4 L1837.0,268.3 L1841.0,263.3 L1845.0,258.4 L1849.0,253.6 L1853.0,249.0 L1857.0,244.4 L1861.0,239.9 L1865.0,235.6 L1869.0,231.4 L1873.0,227.3 L1877.0,223.3 L1881.0,219.5 L1885.0,215.8 L1889.0,212.2 L1893.0,208.8 L1897.0,205.5 L1901.0,202.3 L1905.0,199.3 L1909.0,196.5 L1913.0,193.8 L1917.0,191.2 L1921.0,188.8 L1925.0,186.6 L1929.0,184.5 L1933.0,182.6 L1937.0,180.8 L1941.0,179.2 L1945.0,177.8 L1949.0,176.5 L1953.0,175.5 L1957.0,174.5 L1961.0,173.8 L1965.0,173.2 L1969.0,172.7 L1973.0,172.5 L1977.0,172.4 L1981.0,172.5 L1985.0,172.8 L1989.0,173.2 L1993.0,173.9 L1997.0,174.7 L2001.0,175.7 L2005.0,177.0 L2009.0,178.3 L2013.0,179.9 L2017.0,181.7 L2021.0,183.6 L2025.0,185.7 L2029.0,188.0 L2033.0,190.4 L2037.0,193.0 L2041.0,195.8 L2045.0,198.8 L2049.0,201.9 L2053.0,205.2 L2057.0,208.6 L2061.0,212.2 L2065.0,215.9 L2069.0,219.8 L2073.0,223.9 L2077.0,228.0 L2081.0,232.3 L2085.0,236.8 L2089.0,241.4 L2093.0,246.1 L2097.0,250.9 L2101.0,255.9 L2105.0,260.9 L2109.0,266.1 L2113.0,271.4 L2117.0,276.8 L2121.0,282.3 L2125.0,287.9 L2129.0,293.5 L2133.0,299.3 L2137.0,305.1 L2141.0,311.0 L2145.0,317.0 L2147.7,321.1" fill="none" stroke="#00ff00" stroke-width="6" stroke-linejoin="round"/>
<path d="M1505.0,1094.5 L1509.0,1094.7 L1513.0,1095.0 L1517.0,1095.5 L1521.0,1096.1 L1525.0,1096.6 L1529.0,1097.2 L1533.0,1097.8 L1537.0,1098.4 L1541.0,1099.0 L1545.0,1099.7 L1549.0,1100.5 L1553.0,1101.3 L1557.0,1102.1 L1561.0,1102.9 L1565.0,1103.8 L1569.0,1104.8 L1573.0,1105.9 L1577.0,1107.1 L1581.0,1108.5 L1585.0,1109.9 L1589.0,1111.4 L1593.0,1113.0 L1597.0,1114.6 L1601.0,1116.3 L1605.0,1118.1 L1609.0,1119.9 L1613.0,1121.7 L1617.0,1123.5 L1621.0,1125.3 L1625.0,1127.2 L1629.0,1129.0 L1633.0,1130.8 L1637.0,1132.5 L1641.0,1134.3 L1645.0,1135.9 L1649.0,1137.6 L1653.0,1139.2 L1657.0,1140.7 L1661.0,1142.1 L1665.0,1143.6 L1669.0,1144.9 L1673.0,1146.2 L1677.0,1147.4 L1681.0,1148.5 L1685.0,1149.6 L1689.0,1150.6 L1693.0,1151.5 L1697.0,1152.4 L1701.0,1153.2 L1705.0,1154.0 L1709.0,1154.7 L1713.0,1155.3 L1717.0,1155.9 L1721.0,1156.5 L1725.0,1157.0 L1729.0,1157.4 L1733.0,1157.8 L1737.0,1158.2 L1741.0,1158.5 L1745.0,1158.8 L1749.0,1159.1 L1753.0,1159.3 L1757.0,1159.5 L1761.0,1159.7 L1765.0,1159.9 L1769.0,1160.0 L1773.0,1160.2 L1777.0,1160.3 L1781.0,1160.4 L1785.0,1160.5 L1789.0,1160.5 L1793.0,1160.6 L1797.0,1160.7 L1801.0,1160.7 L1805.0,1160.8 L1809.0,1160.8 L1813.0,1160.8 L1817.0,1160.9 L1821.0,1160.9 L1825.0,1160.9 L1829.0,1160.9 L1833.0,1160.9 L1837.0,1160.9 L1841.0,1161.0 L1845.0,1161.0 L1849.0,1161.0 L1853.0,1161.0 L1857.0,1161.0 L1861.0,1161.0 L1865.0,1161.0 L1869.0,1161.0 L1873.0,1161.0 L1877.0,1161.0 L1881.0,1161.0 L1885.0,1161.0 L1889.0,1161.0 L1893.0,1161.0 L1897.0,1161.0 L1901.0,1161.0 L1905.0,1161.0 L1909.0,1161.0 L1913.0,1161.0 L1917.0,1161.0 L1921.0,1161.0 L1925.0,1161.0 L1929.0,1161.0 L1933.0,1161.0 L1937.0,1161.0 L1941.0,1161.0 L1945.0,1161.0 L1949.0,1161.0 L1953.0,1161.0 L1957.0,1161.0 L1961.0,1161.0 L1965.0,1161.0 L1969.0,1161.0 L1973.0,1161.0 L1977.0,1161.0 L1981.0,1161.0 L1985.0,1161.0 L1989.0,1161.0 L1993.0,1161.0 L1997.0,1161.0 L2001.0,1161.0 L2005.0,1161.0 L2009.0,1161.0 L2013.0,1161.0 L2017.0,1161.0 L2021.0,1161.0 L2025.0,1161.0 L2029.0,1161.0 L2033.0,1161.0 L2037.0,1161.0 L2041.0,1161.0 L2045.0,1161.0 L2049.0,1161.0 L2053.0,1161.0 L2057.0,1161.0 L2061.0,1161.0 L2065.0,1161.0 L2069.0,1161.0 L2073.0,1161.0 L2077.0,1161.0 L2081.0,1161.0 L2085.0,1161.0 L2089.0,1161.0 L2093.0,1161.0 L2097.0,1161.0 L2101.0,1161.0 L2105.0,1161.0 L2109.0,1161.0 L2113.0,1161.0 L2117.0,1161.0 L2121.0,1161.0 L2125.0,1161.0 L2129.0,1161.0 L2133.0,1161.0 L2137.0,1161.0 L2141.0,1161.0 L2145.0,1161.0 L2149.0,1161.0" fill="none" stroke="#ff00ff" stroke-width="6" stroke-linejoin="round"/>
<path d="M1480.0,1161.0 L1484.0,1161.0 L1488.0,1160.9 L1492.0,1160.9 L1496.0,1160.9 L1500.0,1160.9 L1504.0,1160.8 L1508.0,1160.7 L1512.0,1160.7 L1516.0,1160.6 L1520.0,1160.4 L1524.0,1160.3 L1528.0,1160.0 L1532.0,1159.8 L1536.0,1159.4 L1540.0,1159.0 L1544.0,1158.5 L1548.0,1157.9 L1552.0,1157.1 L1556.0,1156.2 L1560.0,1155.1 L1564.0,1153.7 L1568.0,1152.1 L1572.0,1150.3 L1576.0,1148.1 L1580.0,1145.5 L1584.0,1142.6 L1588.0,1139.2 L1592.0,1135.4 L1596.0,1131.0 L1600.0,1126.1 L1604.0,1120.6 L1608.0,1114.5 L1612.0,1107.8 L1616.0,1100.5 L1620.0,1092.5 L1624.0,1084.0 L1628.0,1074.9 L1632.0,1065.3 L1636.0,1055.2 L1640.0,1044.6 L1644.0,1033.8 L1648.0,1022.8 L1652.0,1011.6 L1656.0,1000.5 L1660.0,989.5 L1664.0,978.8 L1668.0,968.5 L1672.0,958.8 L1676.0,949.8 L1680.0,941.7 L1684.0,934.6 L1688.0,928.5 L1692.0,923.7 L1696.0,920.1 L1700.0,917.9 L1704.0,917.0 L1708.0,917.5 L1712.0,919.4 L1716.0,922.6 L1720.0,927.0 L1724.0,932.7 L1728.0,939.4 L1732.0,947.2 L1736.0,955.8 L1740.0,965.2 L1744.0,975.2 L1748.0,985.7 L1752.0,996.5 L1756.0,1007.5 L1760.0,1018.5 L1764.0,1029.5 L1768.0,1040.4 L1772.0,1050.9 L1776.0,1061.1 L1780.0,1070.9 L1784.0,1080.1 L1788.0,1088.8 L1792.0,1096.9 L1796.0,1104.5 L1800.0,1111.4 L1804.0,1117.7 L1808.0,1123.4 L1812.0,1128.6 L1816.0,1133.2 L1820.0,1137.3 L1824.0,1140.9 L1828.0,1144.0 L1832.0,1146.7 L1836.0,1149.1 L1840.0,1151.1 L1844.0,1152.9 L1848.0,1154.3 L1852.0,1155.5 L1856.0,1156.6 L1860.0,1157.4 L1864.0,1158.1 L1868.0,1158.7 L1872.0,1159.2 L1876.0,1159.6 L1880.0,1159.9 L1884.0,1160.1 L1888.0,1160.3 L1892.0,1160.5 L1896.0,1160.6 L1900.0,1160.7 L1904.0,1160.8 L1908.0,1160.8 L1912.0,1160.9 L1916.0,1160.9 L1920.0,1160.9 L1924.0,1160.9 L1928.0,1161.0 L1932.0,1161.0 L1936.0,1161.0 L1940.0,1161.0 L1944.0,1161.0 L1948.0,1161.0 L1952.0,1161.0 L1956.0,1161.0 L1960.0,1161.0 L1964.0,1161.0 L1968.0,1161.0 L1972.0,1161.0 L1976.0,1161.0 L1980.0,1161.0 L1984.0,1161.0 L1988.0,1161.0 L1992.0,1161.0 L1996.0,1161.0 L2000.0,1161.0 L2004.0,1161.0 L2008.0,1161.0 L2012.0,1161.0 L2016.0,1161.0 L2020.0,1161.0 L2024.0,1161.0 L2028.0,1161.0 L2032.0,1161.0 L2036.0,1161.0 L2040.0,1161.0 L2044.0,1161.0 L2048.0,1161.0 L2052.0,1161.0 L2056.0,1161.0 L2060.0,1161.0 L2064.0,1161.0 L2068.0,1161.0 L2072.0,1161.0 L2076.0,1161.0 L2080.0,1161.0 L2084.0,1161.0 L2088.0,1161.0 L2092.0,1161.0 L2096.0,1161.0 L2100.0,1161.0 L2104.0,1161.0 L2108.0,1161.0 L2112.0,1161.0 L2116.0,1161.0 L2120.0,1161.0 L2124.0,1161.0 L2128.0,1161.0 L2132.0,1161.0 L2136.0,1161.0 L2140.0,1161.0 L2144.0,1161.0 L2148.0,1161.0 L2149.0,1161.0" fill="none" stroke="#ff0000" stroke-width="6" stroke-linejoin="round"/>
<path d="M1260.0,1161.0 L1264.0,1161.0 L1268.0,1161.0 L1272.0,1161.0 L1276.0,1161.0 L1280.0,1161.0 L1284.0,1161.0 L1288.0,1161.0 L1292.0,1161.0 L1296.0,1161.0 L1300.0,1161.0 L1304.0,1161.0 L1308.0,1161.0 L1312.0,1161.0 L1316.0,1161.0 L1320.0,1161.0 L1324.0,1161.0 L1328.0,1161.0 L1332.0,1161.0 L1336.0,1161.0 L1340.0,1161.0 L1344.0,1161.0 L1348.0,1161.0 L1352.0,1161.0 L1356.0,1161.0 L1360.0,1161.0 L1364.0,1161.0 L1368.0,1161.0 L1372.0,1161.0 L1376.0,1161.0 L1380.0,1161.0 L1384.0,1161.0 L1388.0,1161.0 L1392.0,1161.0 L1396.0,1161.0 L1400.0,1161.0 L1404.0,1161.0 L1408.0,1161.0 L1412.0,1161.0 L1416.0,1161.0 L1420.0,1161.0 L1424.0,1161.0 L1428.0,1161.0 L1432.0,1161.0 L1436.0,1161.0 L1440.0,1161.0 L1444.0,1161.0 L1448.0,1161.0 L1452.0,1161.0 L1456.0,1161.0 L1460.0,1161.0 L1464.0,1161.0 L1468.0,1161.0 L1472.0,1161.0 L1476.0,1161.0 L1480.0,1161.0 L1484.0,1161.0 L1488.0,1160.9 L1492.0,1160.9 L1496.0,1160.9 L1500.0,1160.9 L1504.0,1160.9 L1508.0,1160.9 L1512.0,1160.9 L1516.0,1160.9 L1520.0,1160.8 L1524.0,1160.8 L1528.0,1160.8 L1532.0,1160.8 L1536.0,1160.7 L1540.0,1160.7 L1544.0,1160.6 L1548.0,1160.6 L1552.0,1160.5 L1556.0,1160.5 L1560.0,1160.4 L1564.0,1160.3 L1568.0,1160.2 L1572.0,1160.1 L1576.0,1160.0 L1580.0,1159.9 L1584.0,1159.8 L1588.0,1159.6 L1592.0,1159.4 L1596.0,1159.3 L1600.0,1159.0 L1604.0,1158.8 L1608.0,1158.6 L1612.0,1158.3 L1616.0,1158.0 L1620.0,1157.7 L1624.0,1157.3 L1628.0,1156.9 L1632.0,1156.5 L1636.0,1156.0 L1640.0,1155.5 L1644.0,1154.9 L1648.0,1154.3 L1652.0,1153.6 L1656.0,1152.9 L1660.0,1152.1 L1664.0,1151.3 L1668.0,1150.4 L1672.0,1149.4 L1676.0,1148.4 L1680.0,1147.2 L1684.0,1146.0 L1688.0,1144.7 L1692.0,1143.4 L1696.0,1141.9 L1700.0,1140.3 L1704.0,1138.6 L1708.0,1136.9 L1712.0,1135.0 L1716.0,1133.0 L1720.0,1130.9 L1724.0,1128.6 L1728.0,1126.3 L1732.0,1123.8 L1736.0,1121.2 L1740.0,1118.5 L1744.0,1115.6 L1748.0,1112.6 L1752.0,1109.5 L1756.0,1106.2 L1760.0,1102.9 L1764.0,1099.3 L1768.0,1095.7 L1772.0,1091.9 L1776.0,1088.0 L1780.0,1084.0 L1784.0,1079.9 L1788.0,1075.6 L1792.0,1071.3 L1796.0,1066.8 L1800.0,1062.3 L1804.0,1057.6 L1808.0,1052.9 L1812.0,1048.1 L1816.0,1043.3 L1820.0,1038.4 L1824.0,1033.4 L1828.0,1028.4 L1832.0,1023.5 L1836.0,1018.5 L1840.0,1013.5 L1844.0,1008.5 L1848.0,1003.5 L1852.0,998.6 L1856.0,993.8 L1860.0,989.1 L1864.0,984.4 L1868.0,979.8 L1872.0,975.4 L1876.0,971.1 L1879.0,967.9" fill="none" stroke="#00ff00" stroke-width="6" stroke-linejoin="round"/>
<path d="M381.0,1161.0 C450.8,1161.0 680.2,1161.0 800.0,1161.0 C919.8,1161.0 1033.3,1161.0 1100.0,1161.0 C1166.7,1161.0 1175.8,1161.0 1200.0,1160.8 C1224.2,1160.6 1229.0,1160.8 1245.0,1160.0 C1261.0,1159.2 1279.3,1158.3 1295.7,1155.8 C1312.1,1153.2 1327.5,1149.0 1343.5,1144.7 C1359.5,1140.5 1375.3,1135.5 1391.4,1130.3 C1407.5,1125.1 1425.5,1118.6 1440.0,1113.6 C1454.5,1108.6 1465.5,1103.5 1478.3,1100.2 C1491.1,1096.9 1503.8,1094.9 1516.6,1094.0 C1529.3,1093.1 1543.6,1095.0 1554.8,1095.0 C1566.0,1095.0 1577.2,1094.8 1583.5,1094.0 C1589.8,1093.2 1588.2,1093.6 1592.6,1090.4 C1596.9,1087.2 1604.6,1080.7 1609.6,1074.8 C1614.6,1068.9 1618.3,1063.2 1622.6,1055.2 C1626.9,1047.2 1631.2,1036.7 1635.6,1026.5 C1639.9,1016.3 1644.3,1005.9 1648.7,993.9 C1653.1,981.9 1657.4,966.8 1661.7,954.8 C1666.0,942.8 1670.5,931.6 1674.8,922.2 C1679.1,912.9 1683.4,904.4 1687.8,898.7 C1692.2,893.1 1697.2,890.1 1700.9,888.3 C1704.6,886.4 1706.8,886.9 1710.0,887.6 C1713.2,888.4 1716.5,888.6 1720.4,892.8 C1724.3,897.0 1727.1,902.1 1733.5,913.0 C1739.9,923.9 1751.8,945.6 1759.0,958.4 C1766.2,971.2 1770.7,981.2 1776.6,990.0 C1782.5,998.8 1788.3,1006.0 1794.2,1011.0 C1800.1,1016.0 1807.2,1018.9 1811.8,1019.9 C1816.4,1020.9 1818.4,1018.9 1822.0,1017.0 C1825.6,1015.1 1829.0,1012.5 1833.3,1008.5 C1837.6,1004.5 1843.0,998.2 1848.0,993.0 C1853.0,987.8 1858.7,982.0 1863.5,977.0 C1868.3,972.0 1872.5,967.5 1877.0,963.0 C1881.5,958.5 1884.7,954.8 1890.3,950.2 C1895.9,945.6 1904.8,938.9 1910.4,935.5 C1916.0,932.1 1918.2,931.2 1923.8,930.0 C1929.4,928.8 1937.2,928.1 1943.9,928.1 C1950.6,928.1 1957.3,928.0 1964.0,930.0 C1970.7,932.0 1976.5,934.5 1983.8,940.2 C1991.1,945.9 1999.7,955.9 2007.6,964.0 C2015.5,972.1 2023.5,979.7 2031.4,989.0 C2039.3,998.3 2047.3,1010.5 2055.2,1020.0 C2063.1,1029.5 2071.1,1037.3 2079.0,1046.2 C2086.9,1055.1 2095.0,1065.3 2102.9,1073.6 C2110.8,1081.9 2119.0,1088.7 2126.7,1096.2 C2134.4,1103.7 2145.5,1115.0 2149.3,1118.8" fill="none" stroke="#000" stroke-width="5.5" stroke-linejoin="round" stroke-linecap="butt"/>
<path d="M381.0,1634.6 C406.3,1634.6 501.3,1634.9 533.0,1634.6 C564.7,1634.3 545.5,1633.4 571.0,1633.0 C596.5,1632.6 651.2,1632.2 686.0,1632.0 C720.8,1631.8 744.3,1631.8 780.0,1631.5 C815.7,1631.2 852.2,1629.9 900.0,1630.0 C947.8,1630.1 1019.2,1631.8 1067.0,1632.0 C1114.8,1632.2 1151.5,1631.8 1187.0,1631.5 C1222.5,1631.2 1236.7,1630.9 1280.0,1630.5 C1323.3,1630.1 1399.2,1629.7 1447.0,1629.2 C1494.8,1628.7 1531.0,1628.2 1567.0,1627.5 C1603.0,1626.8 1627.5,1626.1 1663.0,1625.1 C1698.5,1624.1 1747.7,1622.2 1780.0,1621.4 C1812.3,1620.6 1825.2,1620.3 1857.0,1620.0 C1888.8,1619.7 1939.2,1619.9 1971.0,1619.5 C2002.8,1619.1 2017.7,1618.3 2048.0,1617.6 C2078.3,1616.9 2135.5,1615.5 2153.0,1615.1" fill="none" stroke="#000" stroke-width="5.5" stroke-linejoin="round" stroke-linecap="butt"/>
<line x1="1036.8" y1="746.3" x2="996.6" y2="651.9" stroke="#000" stroke-width="2.2"/><polygon points="981.3,616.0 1007.5,649.4 987.2,658.0" fill="#000"/>
<line x1="1213.5" y1="759.0" x2="1215.3" y2="601.0" stroke="#000" stroke-width="2.2"/><polygon points="1215.8,562.0 1226.3,603.1 1204.3,602.9" fill="#000"/>
<line x1="1493.0" y1="616.3" x2="1466.3" y2="453.0" stroke="#000" stroke-width="2.2"/><polygon points="1460.0,414.5 1477.5,453.2 1455.8,456.7" fill="#000"/>
<line x1="2012.0" y1="285.8" x2="1981.5" y2="131.1" stroke="#000" stroke-width="2.2"/><polygon points="1974.0,92.8 1992.7,130.9 1971.1,135.2" fill="#000"/>
<line x1="380.5" y1="169.5" x2="380.5" y2="1828" stroke="#000" stroke-width="5.5"/>
<line x1="378" y1="1794" x2="2396" y2="1794" stroke="#000" stroke-width="5.5"/>
<line x1="346" y1="172.0" x2="381" y2="172.0" stroke="#000" stroke-width="5"/>
<line x1="346" y1="590.6" x2="381" y2="590.6" stroke="#000" stroke-width="5"/>
<line x1="346" y1="1009.1" x2="381" y2="1009.1" stroke="#000" stroke-width="5"/>
<line x1="346" y1="1427.7" x2="381" y2="1427.7" stroke="#000" stroke-width="5"/>
<line x1="362.5" y1="381.3" x2="381" y2="381.3" stroke="#000" stroke-width="4.5"/>
<line x1="362.5" y1="799.8" x2="381" y2="799.8" stroke="#000" stroke-width="4.5"/>
<line x1="362.5" y1="1218.4" x2="381" y2="1218.4" stroke="#000" stroke-width="4.5"/>
<line x1="362.5" y1="1637.0" x2="381" y2="1637.0" stroke="#000" stroke-width="4.5"/>
<line x1="380.5" y1="1794" x2="380.5" y2="1828" stroke="#000" stroke-width="4.5"/>
<line x1="668.1" y1="1794" x2="668.1" y2="1828" stroke="#000" stroke-width="4.5"/>
<line x1="955.7" y1="1794" x2="955.7" y2="1828" stroke="#000" stroke-width="4.5"/>
<line x1="1243.3" y1="1794" x2="1243.3" y2="1828" stroke="#000" stroke-width="4.5"/>
<line x1="1530.9" y1="1794" x2="1530.9" y2="1828" stroke="#000" stroke-width="4.5"/>
<line x1="1818.5" y1="1794" x2="1818.5" y2="1828" stroke="#000" stroke-width="4.5"/>
<line x1="2106.1" y1="1794" x2="2106.1" y2="1828" stroke="#000" stroke-width="4.5"/>
<line x1="2393.7" y1="1794" x2="2393.7" y2="1828" stroke="#000" stroke-width="4.5"/>
<line x1="524.3" y1="1794" x2="524.3" y2="1813" stroke="#000" stroke-width="4.3"/>
<line x1="811.9" y1="1794" x2="811.9" y2="1813" stroke="#000" stroke-width="4.3"/>
<line x1="1099.5" y1="1794" x2="1099.5" y2="1813" stroke="#000" stroke-width="4.3"/>
<line x1="1387.1" y1="1794" x2="1387.1" y2="1813" stroke="#000" stroke-width="4.3"/>
<line x1="1674.7" y1="1794" x2="1674.7" y2="1813" stroke="#000" stroke-width="4.3"/>
<line x1="1962.3" y1="1794" x2="1962.3" y2="1813" stroke="#000" stroke-width="4.3"/>
<line x1="2249.9" y1="1794" x2="2249.9" y2="1813" stroke="#000" stroke-width="4.3"/>
<text x="325" y="186.5" font-family="Carlito, 'Liberation Sans', sans-serif" font-size="71" text-anchor="end">1600</text>
<text x="325" y="605.1" font-family="Carlito, 'Liberation Sans', sans-serif" font-size="71" text-anchor="end">1200</text>
<text x="325" y="1023.6" font-family="Carlito, 'Liberation Sans', sans-serif" font-size="71" text-anchor="end">800</text>
<text x="325" y="1442.2" font-family="Carlito, 'Liberation Sans', sans-serif" font-size="71" text-anchor="end">400</text>
<text x="380.5" y="1900" font-family="Carlito, 'Liberation Sans', sans-serif" font-size="71" text-anchor="middle">200</text>
<text x="668.1" y="1900" font-family="Carlito, 'Liberation Sans', sans-serif" font-size="71" text-anchor="middle">300</text>
<text x="955.7" y="1900" font-family="Carlito, 'Liberation Sans', sans-serif" font-size="71" text-anchor="middle">400</text>
<text x="1243.3" y="1900" font-family="Carlito, 'Liberation Sans', sans-serif" font-size="71" text-anchor="middle">500</text>
<text x="1530.9" y="1900" font-family="Carlito, 'Liberation Sans', sans-serif" font-size="71" text-anchor="middle">600</text>
<text x="1818.5" y="1900" font-family="Carlito, 'Liberation Sans', sans-serif" font-size="71" text-anchor="middle">700</text>
<text x="2106.1" y="1900" font-family="Carlito, 'Liberation Sans', sans-serif" font-size="71" text-anchor="middle">800</text>
<text x="2393.7" y="1900" font-family="Carlito, 'Liberation Sans', sans-serif" font-size="71" text-anchor="middle">900</text>
<text x="1147.5" y="2045.5" font-family="Carlito, 'Liberation Sans', sans-serif" font-size="84.5">Temperature (<tspan font-size="80" dy="1.5">°</tspan><tspan dy="-1.5" dx="6">C)</tspan></text>
<text transform="translate(99.5,1384) rotate(-90)" font-family="Carlito, 'Liberation Sans', sans-serif" font-size="83" letter-spacing="0.4">H<tspan font-size="50" dy="36">2</tspan><tspan dy="-36" dx="1"> consumption (a.u.)</tspan></text>
<text x="1867" y="74.7" font-family="'Liberation Sans', Arial, sans-serif" font-size="71">789 <tspan x="2003.5" y="82" font-size="72">°</tspan><tspan x="2032" y="74.7">C</tspan></text>
<text x="1367.9" y="382.7" font-family="'Liberation Sans', Arial, sans-serif" font-size="71">597 <tspan x="1503.9" y="388.5" font-size="72">°</tspan><tspan x="1530.8" y="382.7">C</tspan></text>
<text x="1158" y="532.8" font-family="'Liberation Sans', Arial, sans-serif" font-size="71">501 <tspan x="1294" y="540.9" font-size="72">°</tspan><tspan x="1321" y="532.8">C</tspan></text>
<text x="882.5" y="580.6" font-family="'Liberation Sans', Arial, sans-serif" font-size="65">452 <tspan x="1004.1" y="590.5" font-size="80">°</tspan></text>
<text transform="translate(1036.9,581.8) scale(0.76,1)" font-family="'Liberation Sans', Arial, sans-serif" font-size="67">C</text>
<text x="1638.1" y="875.8" font-family="'Liberation Sans', Arial, sans-serif" font-size="71">654 <tspan x="1774.6" y="882.6" font-size="72">°</tspan><tspan x="1802" y="875.8">C</tspan></text>
<text x="1884.3" y="898.3" font-family="'Liberation Sans', Arial, sans-serif" font-size="71">775 <tspan x="2021.8" y="905.6" font-size="72">°</tspan><tspan x="2049.9" y="898.3">C</tspan></text>
<text x="1384.9" y="1048.0" font-family="'Liberation Sans', Arial, sans-serif" font-size="71">589 <tspan x="1520.4" y="1055.4" font-size="72">°</tspan><tspan x="1547.9" y="1048.0">C</tspan></text>
<text x="2173" y="462.4" font-family="'Liberation Sans', Arial, sans-serif" font-size="79">Fe<tspan font-size="45" dy="30">2</tspan><tspan dy="-30">O</tspan><tspan font-size="45" dy="30">3</tspan></text>
<text x="2200" y="1122.5" font-family="'Liberation Sans', Arial, sans-serif" font-size="81">FeTiR</text>
<text x="2178" y="1641.8" font-family="'Liberation Sans', Arial, sans-serif" font-size="81">TiR</text>
</svg>
</body></html>
